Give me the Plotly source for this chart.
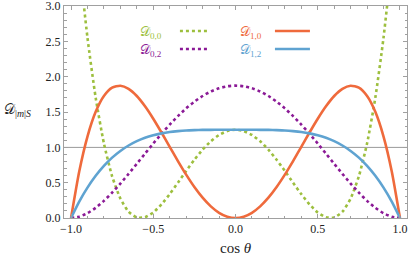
import plotly.graph_objects as go

# cos(theta) sample positions
cos_theta = [-1.0, -0.95, -0.9, -0.85, -0.8, -0.75, -0.7, -0.65, -0.6, -0.55, -0.5,
             -0.45, -0.4, -0.35, -0.3, -0.25, -0.2, -0.15, -0.1, -0.05, 0.0,
             0.05, 0.1, 0.15, 0.2, 0.25, 0.3, 0.35, 0.4, 0.45, 0.5,
             0.55, 0.6, 0.65, 0.7, 0.75, 0.8, 0.85, 0.9, 0.95, 1.0]

half_d00 = [5.0, 3.64, 2.556, 1.704, 1.058, 0.591, 0.276, 0.089, 0.008, 0.011, 0.078,
            0.193, 0.338, 0.500, 0.666, 0.825, 0.968, 1.087, 1.176, 1.231, 1.25]
half_d02 = [0.0, 0.018, 0.068, 0.144, 0.243, 0.359, 0.488, 0.625, 0.768, 0.912, 1.055,
            1.193, 1.323, 1.444, 1.553, 1.648, 1.728, 1.792, 1.838, 1.866, 1.875]
half_d10 = [0.0, 0.660, 1.154, 1.504, 1.728, 1.846, 1.874, 1.830, 1.728, 1.582, 1.406,
            1.211, 1.008, 0.806, 0.614, 0.439, 0.288, 0.165, 0.074, 0.019, 0.0]
half_d12 = [0.0, 0.232, 0.430, 0.598, 0.738, 0.855, 0.950, 1.027, 1.088, 1.136, 1.172,
            1.199, 1.218, 1.231, 1.240, 1.245, 1.248, 1.249, 1.250, 1.250, 1.25]

D00 = half_d00 + half_d00[-2::-1]
D02 = half_d02 + half_d02[-2::-1]
D10 = half_d10 + half_d10[-2::-1]
D12 = half_d12 + half_d12[-2::-1]

reference_level = 1.0
x_ticks = [-1.0, -0.5, 0.0, 0.5, 1.0]
y_ticks = [0.0, 0.5, 1.0, 1.5, 2.0, 2.5, 3.0]

series = [
    ("𝒟<sub>0,0</sub>", D00, "#9dbf3e", "dot"),
    ("𝒟<sub>0,2</sub>", D02, "#8b1a96", "dot"),
    ("𝒟<sub>1,0</sub>", D10, "#ef6a3c", "solid"),
    ("𝒟<sub>1,2</sub>", D12, "#5fa3d1", "solid"),
]

SERIF = "Liberation Serif, DejaVu Serif, serif"

fig = go.Figure()
fig.add_shape(type="line", xref="paper", yref="y", x0=0, x1=1,
              y0=reference_level, y1=reference_level,
              line=dict(color="#9a9a9a", width=1), layer="below")

for name, ys, color, dash in series:
    fig.add_trace(go.Scatter(x=cos_theta, y=ys, mode="lines", name=name,
                             line=dict(color=color, width=2.6, dash=dash, shape="spline", smoothing=0.6),
                             showlegend=False, hoverinfo="skip", cliponaxis=True))

# manual legend (text then sample line), in paper coordinates
leg_rows = [0.877, 0.792]
leg_cols = [(0.254, 0.338, 0.420), (0.544, 0.615, 0.717)]
for i, (name, ys, color, dash) in enumerate(series):
    col = leg_cols[i // 2]
    row = leg_rows[i % 2]
    fig.add_annotation(x=col[0], y=row, xref="paper", yref="paper", text=name,
                       showarrow=False, xanchor="center", yanchor="middle",
                       font=dict(family=SERIF, size=13, color=color))
    fig.add_shape(type="line", xref="paper", yref="paper", x0=col[1], x1=col[2],
                  y0=row + 0.005, y1=row + 0.005,
                  line=dict(color=color, width=2.6, dash=dash))

fig.add_annotation(x=-0.18, y=0.505, xref="paper", yref="paper",
                   text="𝒟<sub>|<i>m</i>|<i>S</i></sub>", showarrow=False,
                   xanchor="left", yanchor="middle",
                   font=dict(family=SERIF, size=14, color="#222"))
fig.add_annotation(x=0.5, y=-0.142, xref="paper", yref="paper",
                   text="cos <i>θ</i>", showarrow=False,
                   xanchor="center", yanchor="middle",
                   font=dict(family=SERIF, size=15, color="#222"))

axis_common = dict(showline=True, linecolor="#a0a0a0", linewidth=1, mirror="allticks",
                   ticks="inside", ticklen=4, tickcolor="#a0a0a0", tickwidth=1,
                   showgrid=False, zeroline=False, automargin=False,
                   ticklabeloverflow="allow",
                   tickfont=dict(family=SERIF, size=12, color="#222"))

fig.update_xaxes(range=[-1.0426, 1.0426], tickvals=x_ticks,
                 ticktext=[f"{v:.1f}".replace("-", "\u2212") for v in x_ticks],
                 minor=dict(dtick=0.1, tick0=0, ticks="inside", ticklen=2.5, tickcolor="#a0a0a0"),
                 **axis_common)
fig.update_yaxes(range=[0, 3.003], tickvals=y_ticks,
                 ticktext=[f"{v:.1f}" for v in y_ticks],
                 minor=dict(dtick=0.1, tick0=0, ticks="inside", ticklen=2.5, tickcolor="#a0a0a0"),
                 **axis_common)

fig.update_layout(width=409, height=260, margin=dict(l=64, r=2, t=6, b=42, autoexpand=False),
                  plot_bgcolor="white", paper_bgcolor="white")

fig.write_html("out.html", config={"displayModeBar": False},
               post_script="document.body.style.margin='0';document.body.style.overflow='hidden';")
